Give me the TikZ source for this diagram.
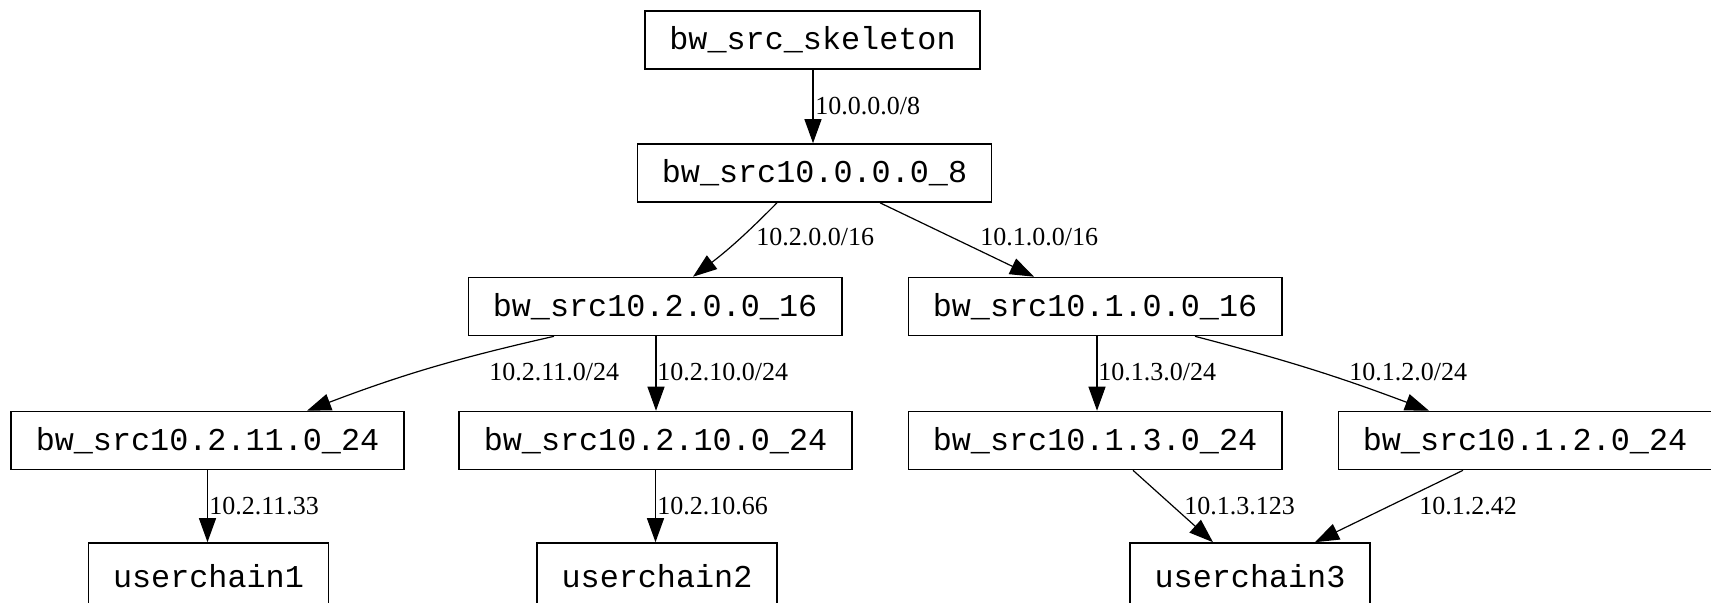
\documentclass[tikz,border=0pt]{standalone}
\usepackage{fontspec}
\newfontfamily\boxfont{Liberation Mono}
\newfontfamily\lblfont{Liberation Serif}
\usetikzlibrary{arrows.meta}

\begin{document}
\begin{tikzpicture}[x=0.5pt, y=-0.5pt,
  box/.style={draw, line width=0.8pt, inner xsep=12.25pt, inner ysep=0pt,
    minimum height=29pt, font=\boxfont\fontsize{15.9pt}{18pt}\selectfont},
  lbl/.style={anchor=west, inner sep=0pt, font=\lblfont\fontsize{13pt}{15pt}\selectfont}]

\useasboundingbox (0,0) rectangle (1711,602);

% chain nodes
\node[box] (skel) at (812.5,40) {bw\_src\_skeleton};
\node[box] (n8)   at (814.5,173) {bw\_src10.0.0.0\_8};
\node[box] (n216) at (655,306.5) {bw\_src10.2.0.0\_16};
\node[box] (n116) at (1095,306.5) {bw\_src10.1.0.0\_16};
\node[box] (n211) at (207.5,440.5) {bw\_src10.2.11.0\_24};
\node[box] (n210) at (655.5,440.5) {bw\_src10.2.10.0\_24};
\node[box] (n13)  at (1095,440.5) {bw\_src10.1.3.0\_24};
\node[box] (n12)  at (1525,440.5) {bw\_src10.1.2.0\_24};
\node[box, minimum height=33pt] (uc1) at (208.5,576) {userchain1};
\node[box, minimum height=33pt] (uc2) at (657,576) {userchain2};
\node[box, minimum height=33pt] (uc3) at (1250,576) {userchain3};

% labels
\node[lbl] (l0)   at (815,106) {10.0.0.0/8};
\node[lbl] (l2)   at (756,237) {10.2.0.0/16};
\node[lbl] (l1)   at (980,237) {10.1.0.0/16};
\node[lbl] (l211) at (489,372) {10.2.11.0/24};
\node[lbl] (l210) at (657,372) {10.2.10.0/24};
\node[lbl] (l13)  at (1098,372) {10.1.3.0/24};
\node[lbl] (l12)  at (1349,372) {10.1.2.0/24};
\node[lbl] (l33)  at (209,506) {10.2.11.33};
\node[lbl] (l66)  at (657,506) {10.2.10.66};
\node[lbl] (l123) at (1184,506) {10.1.3.123};
\node[lbl] (l42)  at (1419,506) {10.1.2.42};

\begin{scope}[line width=0.6pt, ->, >={Triangle[length=12pt,width=8.5pt]}]
\draw ([xshift=0.25pt]skel.south) -- ([xshift=0.25pt]skel.south |- n8.north);
\draw ([xshift=-18.75pt]n8.south) to[bend left=4] ([xshift=19pt]n216.north);
\draw ([xshift=32.75pt]n8.south) -- ([xshift=-30.5pt]n116.north);
\draw ([xshift=-50.5pt]n216.south) to[bend right=4] ([xshift=49.75pt]n211.north);
\draw ([xshift=0.5pt]n216.south) -- ([xshift=0.5pt]n216.south |- n210.north);
\draw ([xshift=1pt]n116.south) -- ([xshift=1pt]n116.south |- n13.north);
\draw ([xshift=50pt]n116.south) to[bend left=3] ([xshift=-48pt]n12.north);
\draw (n211.south) -- (n211.south |- uc1.north);
\draw (n210.south) -- (n210.south |- uc2.north);
\draw ([xshift=19pt]n13.south) -- ([xshift=-18.5pt]uc3.north);
\draw ([xshift=-31pt]n12.south) -- ([xshift=32.5pt]uc3.north);
\end{scope}
\end{tikzpicture}
\end{document}
